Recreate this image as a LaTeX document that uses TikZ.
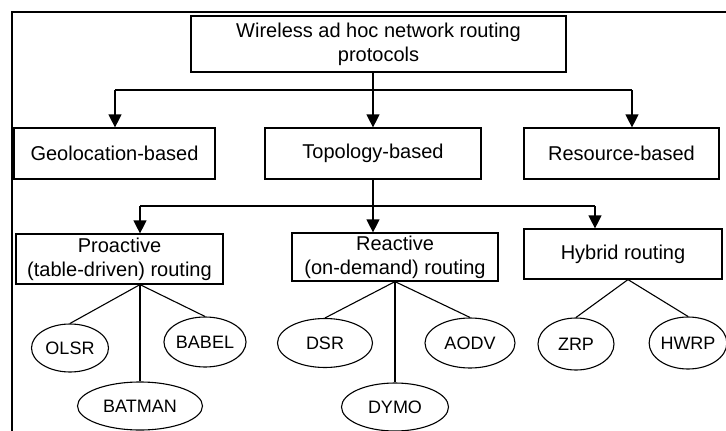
\documentclass[tikz,border=0pt]{standalone}
\usepackage{fontspec}
\setmainfont{Liberation Sans}
\usetikzlibrary{shapes.geometric,arrows.meta,calc}
\begin{document}
\begin{tikzpicture}[x=1pt,y=-1pt,
  box/.style={draw,line width=1.2pt,rectangle,inner sep=0pt,align=center,font=\fontsize{20}{24}\selectfont},
  oval/.style={draw,line width=1.1pt,ellipse,inner sep=0pt,font=\fontsize{18}{20}\selectfont},
  link/.style={line width=1.1pt},
  arr/.style={line width=1.2pt,-{Triangle[length=13pt,width=13pt]}}]
\useasboundingbox (0,0) rectangle (726,431);
\fill[white] (0,0) rectangle (726,431);
\draw[line width=1.6pt] (726,12) -- (12,12) -- (12,431);

\node[box,minimum width=375pt,minimum height=56pt] (top) at (378.5,44) {Wireless ad hoc network routing\\protocols};
\node[box,minimum width=201pt,minimum height=51pt] (geo) at (114.5,153.5) {Geolocation-based};
\node[box,minimum width=216pt,minimum height=51pt] (topo) at (373,153.5) {Topology-based};
\node[box,minimum width=195pt,minimum height=51pt] (res) at (621.5,153.5) {Resource-based};
\node[box,minimum width=207pt,minimum height=50pt] (pro) at (119.5,259) {Proactive\\(table-driven) routing};
\node[box,minimum width=206pt,minimum height=48pt] (rea) at (395,257) {Reactive\\(on-demand) routing};
\node[box,minimum width=198pt,minimum height=50pt] (hyb) at (623,254) {Hybrid routing};

\node[oval,minimum width=77pt,minimum height=48pt] (olsr) at (70,348) {OLSR};
\node[oval,minimum width=70pt,minimum height=50pt] (babel) at (205,342) {BABEL};
\node[oval,minimum width=125pt,minimum height=48pt] (batman) at (140,406) {BATMAN};
\node[oval,minimum width=95pt,minimum height=49pt] (dsr) at (325,343) {DSR};
\node[oval,minimum width=90pt,minimum height=50pt] (aodv) at (470,343) {AODV};
\node[oval,minimum width=107pt,minimum height=48pt] (dymo) at (395,407) {DYMO};
\node[oval,minimum width=76pt,minimum height=52pt] (zrp) at (576,344) {ZRP};
\node[oval,minimum width=68pt,minimum height=52pt] (hwrp) at (688,343) {HWRP};

\coordinate (h1) at (115,90);
\coordinate (h2) at (632,90);
\draw[link] (h1) -- (h2);
\draw[arr] (top.south -| topo.north) -- (topo.north);
\draw[arr] (h1) -- (h1 |- geo.north);
\draw[arr] (h2) -- (h2 |- res.north);

\coordinate (g1) at (140,206);
\coordinate (g2) at (595,206);
\draw[link] (g1) -- (g2);
\draw[link] (topo.south) -- (topo.south |- g1);
\draw[arr] (topo.south |- g1) -- (topo.south |- rea.north);
\draw[arr] (g1) -- (g1 |- pro.north);
\draw[arr] (g2) -- (g2 |- hyb.north);

\coordinate (ps) at (g1 |- pro.south);
\coordinate (hs) at ($(hyb.south)+(5,0)$);
\draw[link] (ps) -- (olsr.north);
\draw[link] (ps) -- (babel.north);
\draw[link] (ps) -- (batman.north);
\draw[link] (rea.south) -- (dsr.north);
\draw[link] (rea.south) -- (aodv.north);
\draw[link] (rea.south) -- (dymo.north);
\draw[link] (hs) -- (zrp.north);
\draw[link] (hs) -- (hwrp.north);
\end{tikzpicture}
\end{document}
